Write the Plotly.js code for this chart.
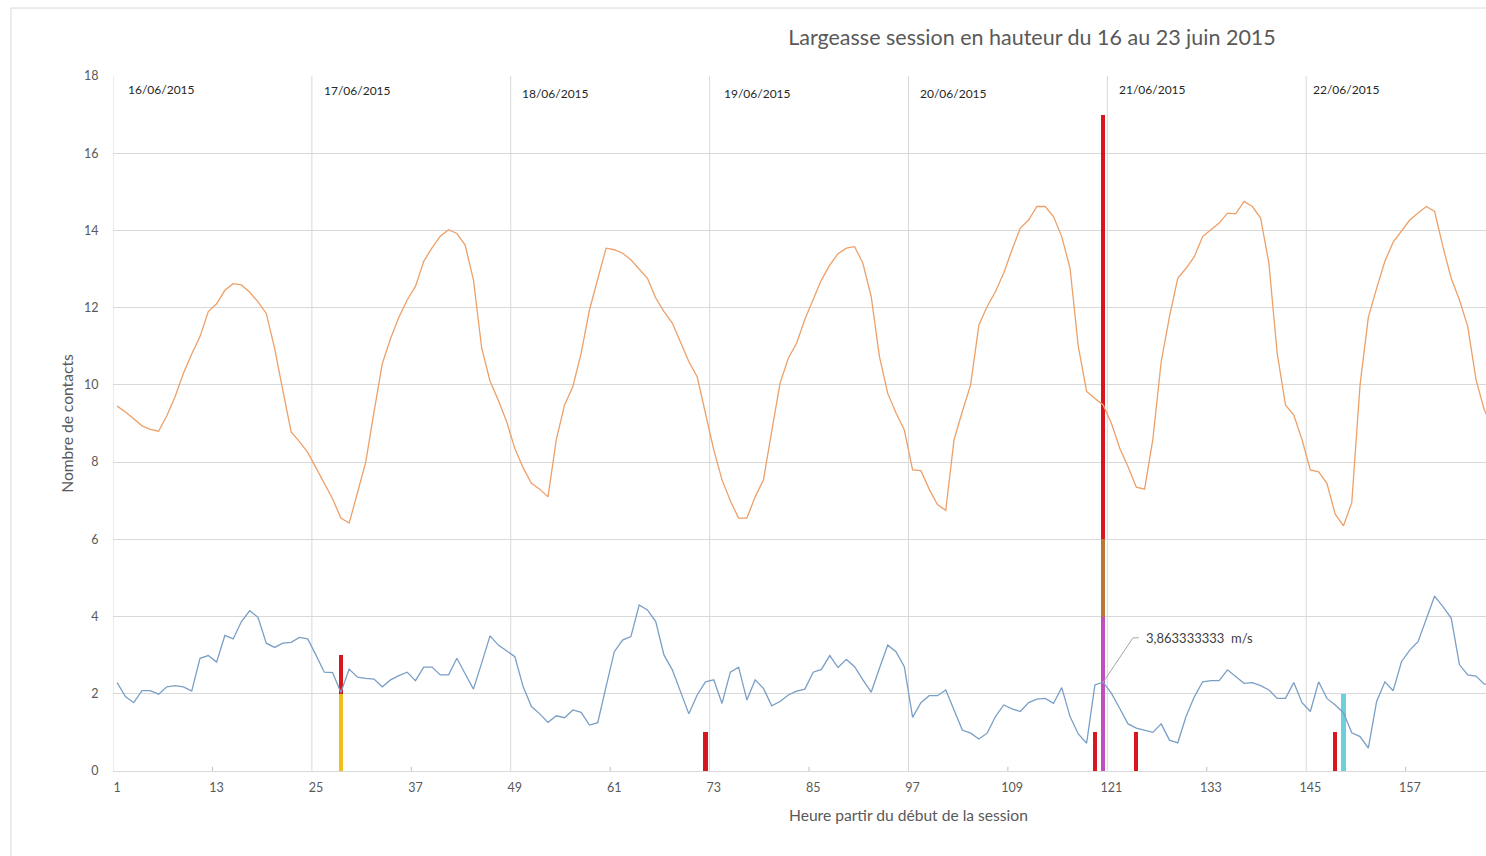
<!DOCTYPE html>
<html>
<head>
<meta charset="utf-8">
<script src="https://cdn.plot.ly/plotly-3.0.1.min.js"></script>
<style>
html,body{margin:0;padding:0;background:#fff;}
#chart{width:1486px;height:856px;}
</style>
</head>
<body>
<div id="chart"></div>
<script>
// ---- data ----
var orangeSeries = [
9.45, 9.3, 9.12, 8.94, 8.85, 8.8, 9.2, 9.7, 10.3, 10.8,
11.25, 11.9, 12.1, 12.45, 12.62, 12.59, 12.4, 12.15, 11.85, 10.95,
9.85, 8.78, 8.53, 8.25, 7.85, 7.45, 7.05, 6.55, 6.42, 7.2,
8.0, 9.3, 10.55, 11.2, 11.75, 12.2, 12.55, 13.2, 13.55, 13.85,
14.02, 13.92, 13.62, 12.72, 10.95, 10.1, 9.6, 9.05, 8.35, 7.85,
7.45, 7.3, 7.1, 8.58, 9.48, 9.96, 10.82, 11.94, 12.75, 13.54,
13.5, 13.41, 13.24, 13.0, 12.76, 12.25, 11.9, 11.6, 11.12, 10.6,
10.21, 9.27, 8.32, 7.54, 7.0, 6.55, 6.55, 7.1, 7.54, 8.8,
10.04, 10.69, 11.08, 11.7, 12.2, 12.72, 13.1, 13.4, 13.54, 13.58,
13.15, 12.29, 10.73, 9.78, 9.27, 8.83, 7.8, 7.78, 7.3, 6.9,
6.75, 8.58, 9.31, 10.0, 11.55, 12.03, 12.42, 12.9, 13.5, 14.06,
14.27, 14.62, 14.62, 14.36, 13.84, 13.02, 10.99, 9.83, 9.65, 9.48,
9.0, 8.36, 7.88, 7.35, 7.3, 8.6, 10.6, 11.77, 12.76, 13.02,
13.32, 13.84, 14.02, 14.19, 14.45, 14.43, 14.75, 14.62, 14.32, 13.15,
10.82, 9.48, 9.22, 8.58, 7.8, 7.75, 7.45, 6.65, 6.35, 6.95,
10.0, 11.75, 12.5, 13.2, 13.7, 13.97, 14.27, 14.45, 14.62, 14.49,
13.58, 12.76, 12.2, 11.51, 10.13, 9.35, 8.9
];
var blueSeries = [
2.29, 1.93, 1.77, 2.08, 2.08, 1.99, 2.18, 2.21, 2.18, 2.07,
2.92, 2.99, 2.82, 3.51, 3.42, 3.87, 4.15, 3.98, 3.31, 3.2,
3.31, 3.33, 3.46, 3.42, 3.0, 2.56, 2.55, 2.03, 2.64, 2.43,
2.4, 2.38, 2.18, 2.36, 2.47, 2.56, 2.34, 2.69, 2.69, 2.49,
2.49, 2.92, 2.52, 2.12, 2.8, 3.5, 3.26, 3.12, 2.96, 2.18,
1.67, 1.48, 1.26, 1.43, 1.38, 1.58, 1.52, 1.19, 1.25, 2.18,
3.09, 3.39, 3.48, 4.3, 4.17, 3.87, 3.0, 2.62, 2.05, 1.48,
1.97, 2.31, 2.36, 1.75, 2.56, 2.69, 1.84, 2.36, 2.14, 1.69,
1.8, 1.97, 2.07, 2.12, 2.56, 2.63, 2.99, 2.68, 2.89, 2.7,
2.36, 2.04, 2.66, 3.26, 3.09, 2.7, 1.39, 1.77, 1.95, 1.95,
2.1, 1.58, 1.06, 0.98, 0.83, 0.98, 1.41, 1.71, 1.61, 1.54,
1.77, 1.86, 1.88, 1.75, 2.16, 1.41, 0.96, 0.72, 2.23, 2.3,
2.01, 1.62, 1.22, 1.11, 1.06, 1.0, 1.22, 0.8, 0.73, 1.41,
1.92, 2.31, 2.34, 2.34, 2.62, 2.44, 2.27, 2.29, 2.21, 2.1,
1.88, 1.88, 2.29, 1.77, 1.54, 2.31, 1.88, 1.71, 1.51, 0.99,
0.89, 0.59, 1.8, 2.31, 2.08, 2.83, 3.13, 3.35, 3.96, 4.53,
4.26, 3.96, 2.75, 2.49, 2.46, 2.25, 2.25
];
var hours = [];
for (var i = 1; i <= orangeSeries.length; i++) hours.push(i);

var xTickVals = [1, 13, 25, 37, 49, 61, 73, 85, 97, 109, 121, 133, 145, 157];
var dayLabels = ["16/06/2015", "17/06/2015", "18/06/2015", "19/06/2015", "20/06/2015", "21/06/2015", "22/06/2015"];

var yellowX = [28];      var yellowY = [2];
var cyanX = [149];       var cyanY = [2];
var magentaX = [120];    var magentaY = [4];
var brownX = [120];      var brownY = [2];
var redX = [28, 72, 119, 120, 124, 148];
var redY = [1, 1, 1, 11, 1, 1];

var labelHour = 120;
var labelText = "3,863333333  m/s";

var titleText = "Largeasse session en hauteur du 16 au 23 juin 2015";
var xTitleText = "Heure partir du début de la session";
var yTitleText = "Nombre de contacts";

// ---- layout helpers (positions/styles) ----
var FONT = "Lato, 'Liberation Sans', sans-serif";
var dayLabelX = [2.1, 25.75, 49.65, 74.0, 97.7, 121.7, 145.1];
var dayLabelY = [17.64, 17.62, 17.54, 17.54, 17.54, 17.64, 17.64];
var barW = 0.5;

function barTrace(x, y, color) {
  return {type: 'bar', x: x, y: y, width: x.map(function(){return barW;}),
          marker: {color: color, line: {width: 0}}, hoverinfo: 'skip', showlegend: false};
}

var traces = [
  barTrace(yellowX, yellowY, '#F2BE1A'),
  barTrace(cyanX, cyanY, '#6CCFDD'),
  barTrace(magentaX, magentaY, '#BE4FBC'),
  barTrace(brownX, brownY, '#B77A36'),
  barTrace(redX, redY, '#D8161E'),
  {type: 'scatter', mode: 'lines', x: hours, y: orangeSeries,
   line: {color: '#EDA068', width: 1.3}, showlegend: false, hoverinfo: 'skip'},
  {type: 'scatter', mode: 'lines', x: hours, y: blueSeries,
   line: {color: '#7A9FC6', width: 1.3}, showlegend: false, hoverinfo: 'skip'}
];

var shapes = [];
// vertical day gridlines
for (var g = 0; g < 7; g++) {
  var gx = 0.5 + 24 * g;
  shapes.push({type: 'line', xref: 'x', yref: 'y', x0: gx, x1: gx, y0: 0, y1: 18,
               line: {color: '#D9D9D9', width: 1}, layer: 'below'});
}
// small axis tick marks
for (var t = 0; t < 7; t++) {
  var tx = 12.5 + 24 * t;
  shapes.push({type: 'line', xref: 'x', yref: 'y', x0: tx, x1: tx, y0: 0, y1: 0.11,
               line: {color: '#BFBFBF', width: 1}, layer: 'below'});
}
// leader line for the data label
var lblY = blueSeries[labelHour - 1];
shapes.push({type: 'path', xref: 'x', yref: 'y',
             path: 'M ' + labelHour + ' ' + lblY + ' L ' + (labelHour + 3.6) + ' 3.45 L ' + (labelHour + 4.3) + ' 3.45',
             line: {color: '#A6A6A6', width: 1}});
// outer chart border (left & top)
shapes.push({type: 'line', xref: 'paper', yref: 'paper', x0: -0.0743, x1: -0.0743, y0: -0.2, y1: 1.0978,
             line: {color: '#D9D9D9', width: 1}});
shapes.push({type: 'line', xref: 'paper', yref: 'paper', x0: -0.0743, x1: 1.1, y0: 1.0978, y1: 1.0978,
             line: {color: '#D9D9D9', width: 1}});

var annotations = [];
for (var d = 0; d < dayLabels.length; d++) {
  annotations.push({text: dayLabels[d], x: dayLabelX[d], y: dayLabelY[d], xref: 'x', yref: 'y',
                    xanchor: 'left', yanchor: 'middle', showarrow: false,
                    font: {family: FONT, size: 12, color: '#262626'}});
}
annotations.push({text: labelText, x: labelHour + 4.9, y: 3.45, xref: 'x', yref: 'y',
                  xanchor: 'left', yanchor: 'middle', showarrow: false,
                  font: {family: FONT, size: 13, color: '#404040'}});
annotations.push({text: xTitleText, x: (908 - 113) / 1373, y: -44 / 695, xref: 'paper', yref: 'paper',
                  xanchor: 'center', yanchor: 'middle', showarrow: false,
                  font: {family: FONT, size: 15.6, color: '#595959'}});

var layout = {
  width: 1486, height: 856,
  margin: {l: 113, r: 0, t: 76, b: 85, pad: 0},
  paper_bgcolor: '#ffffff', plot_bgcolor: '#ffffff',
  barmode: 'stack', bargap: 0,
  showlegend: false,
  title: {text: titleText, x: 1032 / 1486, xanchor: 'center', y: 1 - 37 / 856, yanchor: 'middle',
          xref: 'container', yref: 'container',
          font: {family: FONT, size: 21.5, color: '#595959'}},
  xaxis: {range: [0.5, 166.2], tickvals: xTickVals, ticktext: xTickVals.map(String),
          showgrid: false, zeroline: false, showline: true, linecolor: '#D9D9D9', linewidth: 1,
          ticks: 'outside', ticklen: 5, tickcolor: 'rgba(0,0,0,0)',
          tickfont: {family: FONT, size: 12.5, color: '#595959'}, fixedrange: true},
  yaxis: {range: [0, 18], dtick: 2, tick0: 0, showgrid: true, gridcolor: '#D9D9D9', gridwidth: 1,
          zeroline: false, showline: false,
          ticks: 'outside', ticklen: 11, tickcolor: 'rgba(0,0,0,0)',
          tickfont: {family: FONT, size: 12.5, color: '#595959'},
          title: {text: yTitleText, standoff: 6, font: {family: FONT, size: 15.6, color: '#595959'}},
          automargin: false, fixedrange: true},
  shapes: shapes,
  annotations: annotations
};

Plotly.newPlot('chart', traces, layout, {displayModeBar: false, staticPlot: true});
</script>
</body>
</html>
